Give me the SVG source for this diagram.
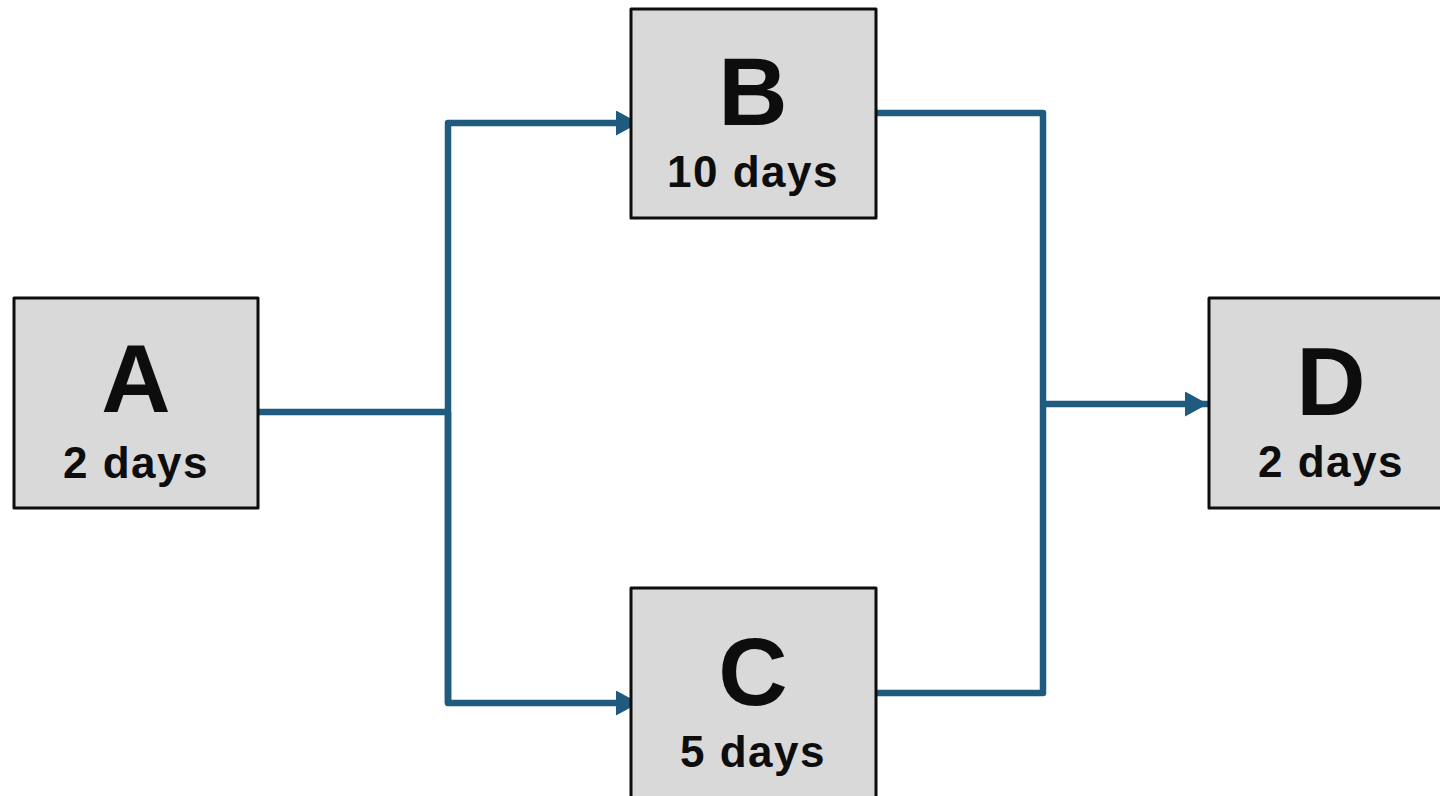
<svg xmlns="http://www.w3.org/2000/svg" width="1440" height="796" viewBox="0 0 1440 796">
<style>
.box{fill:#d9d9d9;stroke:#0d0d0d;stroke-width:3;stroke-linejoin:round}
.big{font-family:"Liberation Sans",Arial,sans-serif;font-weight:bold;font-size:96px;fill:#0d0d0d;text-anchor:middle}
.small{font-family:"Liberation Sans",Arial,sans-serif;font-weight:bold;font-size:44px;letter-spacing:1.5px;fill:#0d0d0d;text-anchor:middle}
.conn{fill:none;stroke:#1f5b7e;stroke-width:6.5;stroke-linejoin:round}
</style>
<defs>
<marker id="arr" markerUnits="userSpaceOnUse" markerWidth="24" markerHeight="26" refX="23" refY="12.5" orient="auto">
<path d="M0,0 L23,12.5 L0,25 Z" fill="#1f5b7e"/>
</marker>
</defs>
<rect width="1440" height="796" fill="#ffffff"/>
<g id="connectors">
<path class="conn" d="M258,412 H448"/>
<path class="conn" d="M448,703 V123 H639" marker-end="url(#arr)"/>
<path class="conn" d="M448,412 V703 H639" marker-end="url(#arr)"/>
<path class="conn" d="M876,113 H1043 V693 H876"/>
<path class="conn" d="M1043,404 H1208" marker-end="url(#arr)"/>
</g>
<g id="node-A">
<rect class="box" x="14" y="298" width="244" height="210"/>
<text class="big" x="136" y="412">A</text>
<text class="small" x="136" y="478">2 days</text>
</g>
<g id="node-B">
<rect class="box" x="631" y="9" width="245" height="209"/>
<text class="big" x="753" y="125">B</text>
<text class="small" x="753" y="187">10 days</text>
</g>
<g id="node-C">
<rect class="box" x="631" y="588" width="245" height="220"/>
<text class="big" x="753" y="705">C</text>
<text class="small" x="753" y="767">5 days</text>
</g>
<g id="node-D">
<rect class="box" x="1209" y="298" width="246" height="210"/>
<text class="big" x="1331" y="415">D</text>
<text class="small" x="1331" y="477">2 days</text>
</g>
</svg>
